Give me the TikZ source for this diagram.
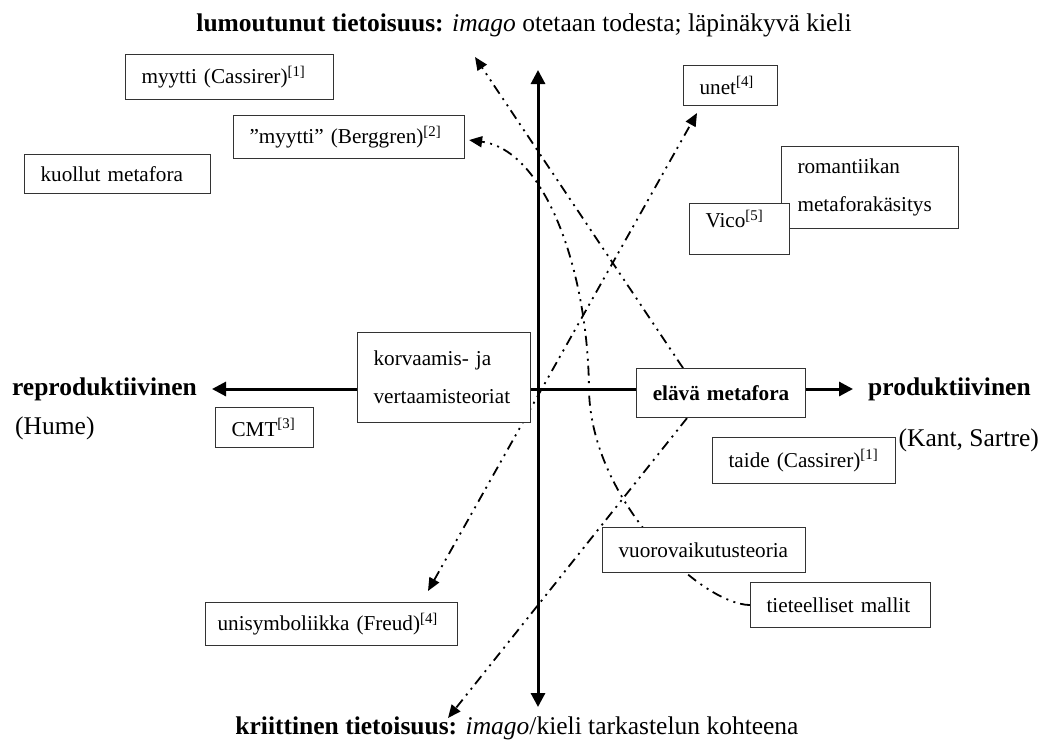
\documentclass[tikz,border=0pt]{standalone}
\usepackage{fontspec}
\setmainfont{Liberation Serif}
\usetikzlibrary{arrows.meta}
\pgfdeclarelayer{paper}
\pgfdeclarelayer{links}
\pgfsetlayers{paper,links,main}
\newcommand{\boxfont}{\fontsize{21.2pt}{38pt}\selectfont}
\newcommand{\labelfont}{\fontsize{25.5pt}{30pt}\selectfont}

\begin{document}
\begin{tikzpicture}[x=1pt, y=-1pt,
    textbox/.style={draw=black!80, fill=white, line width=1.1pt, font=\boxfont, anchor=north west, align=left, inner xsep=16pt, inner ysep=0pt},
    axislabel/.style={font=\labelfont, inner sep=0pt},
    axisline/.style={line width=3pt, {Triangle[length=14pt,width=14pt]}-{Triangle[length=14pt,width=14pt]}},
    linkline/.style={line width=1.8pt, dash pattern=on 10pt off 5pt on 2pt off 5.5pt on 2pt off 5.5pt, -{Triangle[length=13pt,width=11pt]}},
    linkboth/.style={linkline, {Triangle[length=13pt,width=11pt]}-{Triangle[length=13pt,width=11pt]}}]
    \path[use as bounding box] (0,0) rectangle (1040,745);
    \begin{pgfonlayer}{paper}
        \fill[white] (0,0) rectangle (1040,745);
    \end{pgfonlayer}

    % titles and axis labels
    \node[axislabel] (enchanted) at (524,25) {\textbf{lumoutunut tietoisuus:} \textit{imago} otetaan todesta; läpinäkyvä kieli};
    \node[axislabel] (critical) at (517,728) {\textbf{kriittinen tietoisuus:} \textit{imago}/kieli tarkastelun kohteena};
    \node[axislabel, font=\labelfont\bfseries, anchor=east] (repro) at (197,389) {reproduktiivinen};
    \node[axislabel, anchor=west] (hume) at (15,428) {(Hume)};
    \node[axislabel, font=\labelfont\bfseries, anchor=west] (prod) at (868,389) {produktiivinen};
    \node[axislabel, anchor=east] (kant) at (1039,440) {(Kant, Sartre)};

    % boxes
    \node[textbox, text width=176pt, minimum height=45pt] (cassirer) at (125,54) {myytti (Cassirer)\textsuperscript{[1]}};
    \node[textbox, text width=199pt, minimum height=43pt] (berggren) at (233,115) {”myytti” (Berggren)\textsuperscript{[2]}};
    \node[textbox, text width=154pt, minimum height=39pt] (dead) at (24,154) {kuollut metafora};
    \node[textbox, text width=62pt, minimum height=40pt] (dreams) at (683,65) {unet\textsuperscript{[4]}};
    \node[textbox, text width=145pt, minimum height=82pt] (romantic) at (781,146) {romantiikan\\metaforakäsitys};
    \node[textbox, text width=68pt, minimum height=51pt, text depth=20pt] (vico) at (689,203) {Vico\textsuperscript{[5]}};
    \node[textbox, text width=141pt, minimum height=90pt] (substitution) at (357,332) {korvaamis- ja\\vertaamisteoriat};
    \node[textbox, text width=137pt, minimum height=49pt, align=center, font=\boxfont\bfseries] (living) at (636,368) {elävä metafora};
    \node[textbox, text width=66pt, minimum height=40pt] (cmt) at (215,407) {CMT\textsuperscript{[3]}};
    \node[textbox, text width=151pt, minimum height=46pt] (art) at (712,437) {taide (Cassirer)\textsuperscript{[1]}};
    \node[textbox, text width=171pt, minimum height=45pt] (interaction) at (602,527) {vuorovaikutusteoria};
    \node[textbox, text width=148pt, minimum height=45pt] (models) at (750,582) {tieteelliset mallit};
    \node[textbox, text width=228pt, inner xsep=12pt, minimum height=43pt] (freud) at (205,602) {unisymboliikka (Freud)\textsuperscript{[4]}};

    % free ends
    \coordinate (axtop) at (538,70);
    \coordinate (axbot) at (538,707);
    \coordinate (livingup) at (475,57);
    \coordinate (livingdown) at (448,718);
    \coordinate (freudtip) at (428,591);
    \coordinate (dreamstip) at (697,113);

    \begin{pgfonlayer}{links}
        \draw[axisline] (axbot) -- (axtop);
        \draw[axisline, shorten <=15pt, shorten >=15pt] (repro.east) -- (prod.west);
        \draw[linkline] ([xshift=47pt]living.north west) -- (livingup);
        \draw[linkline] ([xshift=51pt]living.south west) -- (livingdown);
        \draw[linkboth] (freudtip) -- (dreamstip);
        \draw[linkline] (models.west) .. controls (700,604) and (591,500) .. (589,390)
            .. controls (588,270) and (545,150) .. ([xshift=4pt,yshift=-3pt]berggren.east);
    \end{pgfonlayer}
\end{tikzpicture}
\end{document}
